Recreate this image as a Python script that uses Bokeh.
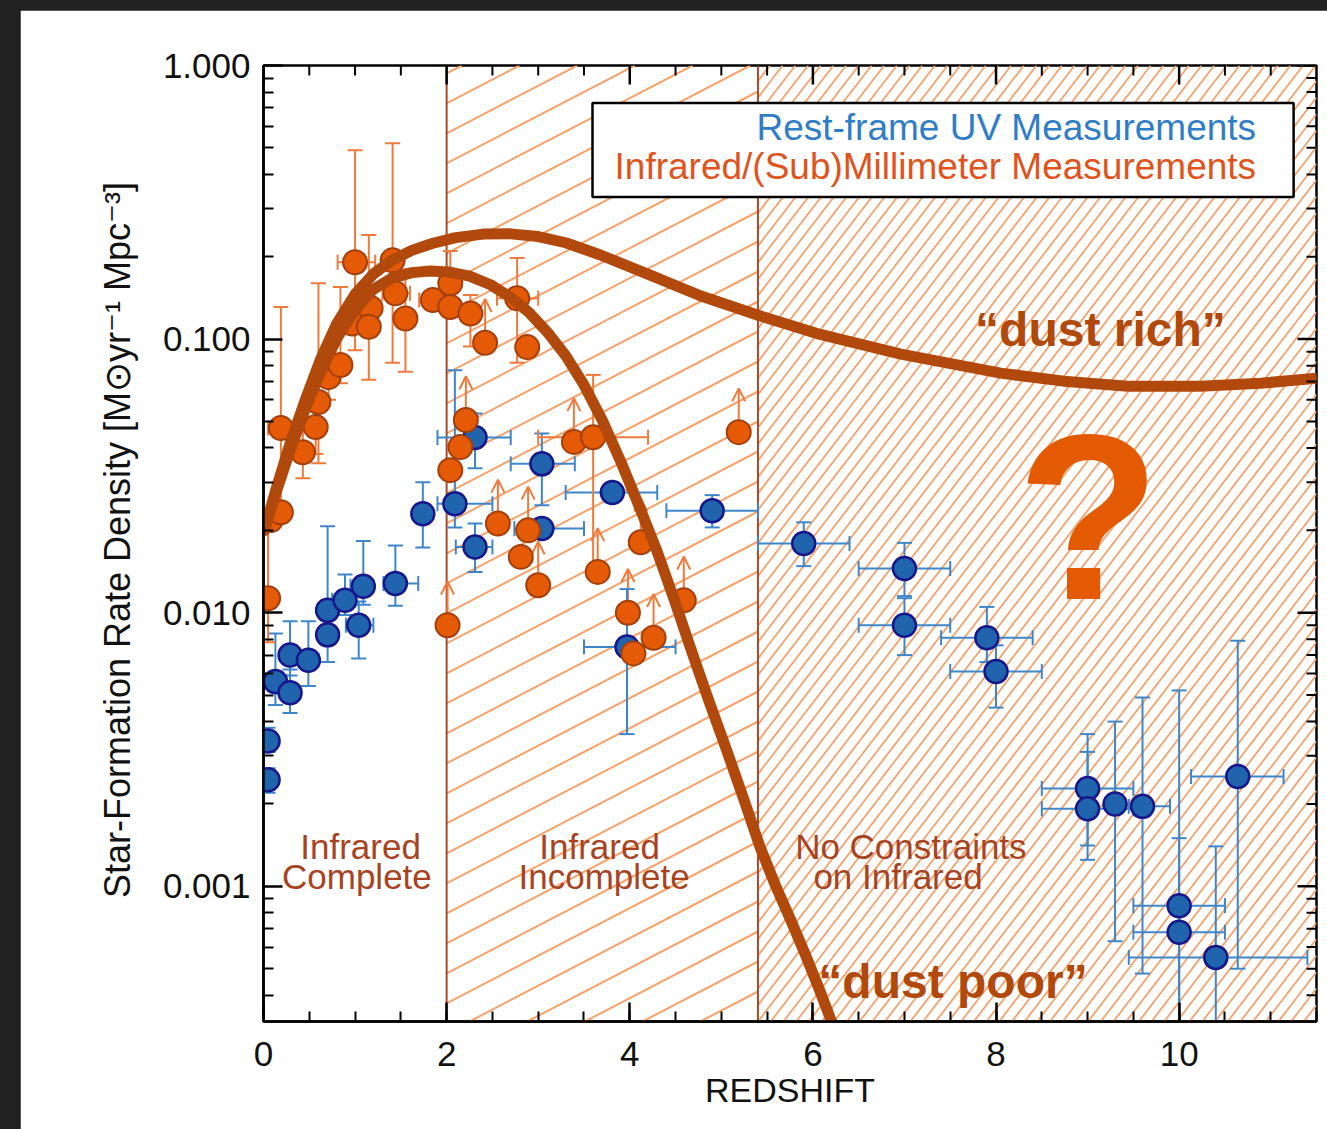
import numpy as np
from bokeh.plotting import figure
from bokeh.models import ColumnDataSource, Range1d, FixedTicker, Arrow, OpenHead, Spacer
from bokeh.layouts import column, row
from bokeh.core.properties import value
from bokeh.embed import file_html
from bokeh.resources import INLINE

# ---------------------------------------------------------------- data
# Rest-frame UV measurements: redshift, SFR density, and their error ranges
uv_z       = [0.05, 0.05, 0.13, 0.29, 0.29, 0.49, 0.70, 0.70, 0.89, 1.04, 1.09, 1.44,
              1.74, 2.09, 2.31, 2.31, 3.04, 3.04, 3.81, 3.97, 4.90, 5.90, 7.00, 7.00,
              7.90, 8.00, 9.00, 9.00, 9.30, 9.60, 10.00, 10.00, 10.40, 10.64]
uv_sfrd    = [0.0034, 0.00245, 0.0056, 0.0051, 0.0070, 0.0067, 0.0083, 0.0102, 0.0111,
              0.0090, 0.0125, 0.0128, 0.0230, 0.0250, 0.0437, 0.0174, 0.0350, 0.0203,
              0.0275, 0.0075, 0.0236, 0.0179, 0.0145, 0.0090, 0.0081, 0.0061, 0.00228,
              0.00192, 0.00200, 0.00196, 0.00085, 0.00068, 0.00055, 0.00252]
uv_z_lo    = [0.00, 0.00, 0.05, 0.20, 0.20, 0.40, 0.60, 0.60, 0.75, 0.90, 0.95, 1.31,
              None, 1.90, 1.90, 2.10, 2.70, 2.74, 3.30, 3.50, 4.40, 5.40, 6.50, 6.50,
              7.40, 7.50, 8.50, 8.50, None, 9.45, 9.50, 9.50, 9.45, 10.13]
uv_z_hi    = [0.10, 0.10, 0.25, 0.40, 0.40, 0.60, 0.80, 0.80, 1.00, 1.20, 1.20, 1.69,
              None, 2.50, 2.70, 2.50, 3.40, 3.50, 4.30, 4.50, 5.40, 6.40, 7.50, 7.50,
              8.40, 8.50, 9.50, 9.50, None, 9.90, 10.50, 10.50, 11.40, 11.14]
uv_sfrd_lo = [0.0031, 0.0022, 0.0046, 0.0043, 0.0059, 0.0054, 0.0066, 0.0080, 0.0098,
              0.0068, 0.0107, 0.0106, 0.0173, 0.0205, 0.0337, 0.0141, 0.0247, 0.0190,
              0.0260, 0.0036, 0.0205, 0.0148, 0.0115, 0.0070, 0.0066, 0.0045, 0.00141,
              0.00125, 0.00063, 0.00048, 0.00020, 0.00020, 0.00020, 0.00050]
uv_sfrd_hi = [0.0038, 0.0027, 0.0084, 0.0062, 0.0093, 0.0093, 0.0105, 0.0207, 0.0138,
              0.0110, 0.0183, 0.0176, 0.0300, 0.0770, 0.0535, 0.0212, 0.0452, 0.0216,
              0.0290, 0.0122, 0.0269, 0.0214, 0.0180, 0.0113, 0.0105, 0.0076, 0.0036,
              0.0031, 0.0040, 0.0049, 0.0052, 0.0015, 0.0014, 0.0079]

# Infrared / (sub)millimetre measurements (lower limits flagged)
ir_z       = [0.05, 0.08, 0.19, 0.19, 0.43, 0.57, 0.60, 0.71, 0.84, 0.97, 1.00, 1.17,
              1.15, 1.41, 1.44, 1.55, 1.85, 2.04, 2.04, 2.26, 2.42, 2.77, 2.88,
              2.01, 2.04, 2.15, 2.21, 2.56, 2.81, 2.89, 3.00, 3.39, 3.60, 3.65, 4.12,
              3.98, 4.04, 4.26, 4.59, 5.19]
ir_sfrd    = [0.0113, 0.0218, 0.0233, 0.0473, 0.0386, 0.0477, 0.0589, 0.0726, 0.0804,
              0.114, 0.191, 0.130, 0.111, 0.194, 0.147, 0.119, 0.139, 0.160, 0.131,
              0.124, 0.097, 0.141, 0.0935,
              0.0090, 0.0332, 0.0403, 0.0506, 0.0212, 0.0160, 0.0200, 0.0126, 0.0421,
              0.0438, 0.0141, 0.0181, 0.0100, 0.0071, 0.0081, 0.0111, 0.0457]
ir_z_lo    = [None, None, None, 0.05, None, None, None, None, None, None, 0.81, None,
              None, None, 1.30, None, 1.70, None, None, None, None, 2.55, None,
              None, None, None, None, None, None, None, None, None, 3.00, None, None,
              None, None, None, None, None]
ir_z_hi    = [None, None, None, 0.30, None, None, None, None, None, None, 1.22, None,
              None, None, 1.60, None, 2.00, None, None, None, None, 3.00, None,
              None, None, None, None, None, None, None, None, None, 4.20, None, None,
              None, None, None, None, None]
ir_sfrd_lo = [0.0078, None, None, 0.022, 0.031, 0.038, 0.0352, 0.060, 0.069, None,
              0.091, None, 0.071, 0.082, None, 0.076, None, 0.130, None, 0.094, None,
              0.082, None,
              None, None, None, None, None, None, None, None, None, 0.0142, None, None,
              None, None, None, None, None]
ir_sfrd_hi = [0.024, None, None, 0.131, 0.050, 0.060, 0.160, 0.090, 0.155, None,
              0.49, None, 0.24, 0.52, None, 0.18, None, 0.21, None, 0.145, None,
              0.198, None,
              None, None, None, None, None, None, None, None, None, 0.074, None, None,
              None, None, None, None, None]
ir_lower_limit = [False] * 20 + [True, False, False,
                  True, False, False, True, True, False, True, True, True,
                  False, True, True, True, False, True, True, True]

# Model SFR-density histories
rich_z    = [0.01, 0.13, 0.29, 0.46, 0.62, 0.80, 1.00, 1.20, 1.40, 1.62, 1.85, 2.10,
             2.40, 2.70, 3.00, 3.30, 3.68, 4.23, 4.77, 5.41, 6.08, 6.96, 8.05, 8.74,
             9.44, 10.23, 10.89, 11.50]
rich_sfrd = [0.0200, 0.0278, 0.0415, 0.0605, 0.0840, 0.114, 0.146, 0.173, 0.194, 0.211,
             0.224, 0.235, 0.242, 0.2425, 0.237, 0.225, 0.203, 0.171, 0.144, 0.122,
             0.104, 0.0881, 0.0751, 0.0702, 0.0673, 0.0673, 0.0690, 0.0720]
poor_z    = [0.01, 0.13, 0.29, 0.46, 0.62, 0.80, 1.00, 1.20, 1.40, 1.62, 1.82, 2.02,
             2.25, 2.48, 2.70, 2.90, 3.10, 3.30, 3.50, 3.70, 3.90, 4.12, 4.30, 4.48,
             4.66, 4.85, 5.05, 5.25, 5.42, 5.59, 5.76, 5.92, 6.07, 6.22, 6.35]
poor_sfrd = [0.0200, 0.0270, 0.0392, 0.0560, 0.0755, 0.1005, 0.128, 0.152, 0.167, 0.175,
             0.1775, 0.176, 0.170, 0.158, 0.142, 0.125, 0.106, 0.087, 0.068, 0.0505,
             0.0358, 0.0237, 0.0167, 0.0113, 0.0075, 0.00491, 0.0032, 0.00206, 0.00140,
             0.00101, 0.00075, 0.00056, 0.00042, 0.00031, 0.00024]

zone_edges = [2.0, 5.4]
x_ticks = [0, 2, 4, 6, 8, 10]
y_ticks = [0.001, 0.01, 0.1, 1.0]
y_tick_labels = ["0.001", "0.010", "0.100", "1.000"]

# ---------------------------------------------------------------- styling
FONT = "Liberation Sans"
FRAME_W, FRAME_H = 1053, 956
Z_MAX = 11.5
LOG_BOTTOM, LOG_TOP = -3.494, 0.0
PX_PER_Z = FRAME_W / Z_MAX
PX_PER_DEX = FRAME_H / (LOG_TOP - LOG_BOTTOM)
MAJOR_TICK, MINOR_TICK = 19, 10

UV_FILL, UV_EDGE, UV_ERR = "#2064ae", "#17178c", "#3f86c9"
IR_FILL, IR_EDGE, IR_ERR = "#e45a06", "#a43f0d", "#f07a3c"
CURVE = "#b0490b"
ZONE_LINE = "#a84a2a"
HATCH = "#f5a26c"
ZONE_TEXT = "#a8431f"

p = figure(frame_width=FRAME_W, frame_height=FRAME_H, y_axis_type="log",
           x_range=Range1d(0, Z_MAX), y_range=Range1d(10 ** LOG_BOTTOM, 10 ** LOG_TOP),
           output_backend="svg", toolbar_location=None,
           min_border_left=243, min_border_top=55, min_border_right=11, min_border_bottom=108,
           background_fill_color="white", border_fill_color="white")
p.grid.visible = False
p.outline_line_color = "black"
p.outline_line_width = 2.5

Y_BOT, Y_TOP = 10 ** LOG_BOTTOM, 10 ** LOG_TOP


def hatch(x0, x1, slope_px, gap_px, width, phase=0.0):
    """Parallel lines, straight on screen, filling x0..x1 over the full height."""
    k = slope_px * PX_PER_Z / PX_PER_DEX
    dc = gap_px / PX_PER_DEX
    xs0, ys0, xs1, ys1 = [], [], [], []
    c = LOG_BOTTOM - k * x1 + phase * dc
    while c < LOG_TOP - k * x0:
        a = max(x0, (LOG_BOTTOM - c) / k)
        b = min(x1, (LOG_TOP - c) / k)
        if b > a:
            xs0.append(a); ys0.append(10 ** (c + k * a))
            xs1.append(b); ys1.append(10 ** (c + k * b))
        c += dc
    p.segment(x0=xs0, y0=ys0, x1=xs1, y1=ys1, line_color=HATCH, line_width=width,
              level="underlay")


hatch(zone_edges[0], zone_edges[1], 0.52, 30, 2.0)
hatch(zone_edges[1], Z_MAX, 1.3, 16.5, 1.8)

p.segment(x0=zone_edges, y0=[Y_BOT] * 2, x1=zone_edges, y1=[Y_TOP] * 2,
          line_color=ZONE_LINE, line_width=2, level="underlay")

# upward arrows for lower limits
ARROW_DEX = 0.16
lim_x = [z for z, f in zip(ir_z, ir_lower_limit) if f]
lim_y = [s for s, f in zip(ir_sfrd, ir_lower_limit) if f]
arrow_src = ColumnDataSource(dict(x=lim_x, y0=lim_y, y1=[s * 10 ** ARROW_DEX for s in lim_y]))
p.add_layout(Arrow(end=OpenHead(size=13, line_color=IR_ERR, line_width=2),
                   x_start="x", y_start="y0", x_end="x", y_end="y1", source=arrow_src,
                   line_color=IR_ERR, line_width=2, level="underlay"))


def error_bars(z, s, zlo, zhi, slo, shi, color, cap):
    vx, v0, v1, hy, h0, h1 = [], [], [], [], [], []
    for zi, si, a, b, c, d in zip(z, s, zlo, zhi, slo, shi):
        if c is not None and d is not None:
            vx.append(zi); v0.append(c); v1.append(d)
        if a is not None and b is not None and b > a:
            hy.append(si); h0.append(a); h1.append(b)
    p.segment(x0=vx, y0=v0, x1=vx, y1=v1, line_color=color, line_width=2)
    p.scatter(x=vx + vx, y=v0 + v1, marker="dash", size=cap, line_color=color, line_width=2)
    p.segment(x0=h0, y0=hy, x1=h1, y1=hy, line_color=color, line_width=2)
    p.scatter(x=h0 + h1, y=hy + hy, marker="dash", angle=np.pi / 2, size=cap,
              line_color=color, line_width=2)


error_bars(uv_z, uv_sfrd, uv_z_lo, uv_z_hi, uv_sfrd_lo, uv_sfrd_hi, UV_ERR, 15)
error_bars(ir_z, ir_sfrd, ir_z_lo, ir_z_hi, ir_sfrd_lo, ir_sfrd_hi, IR_ERR, 15)

p.scatter(x=uv_z, y=uv_sfrd, size=23, fill_color=UV_FILL, line_color=UV_EDGE, line_width=2.5)
p.scatter(x=ir_z, y=ir_sfrd, size=24, fill_color=IR_FILL, line_color=IR_EDGE, line_width=2)

p.line(x=rich_z, y=rich_sfrd, line_color=CURVE, line_width=11, line_cap="round", line_join="round")
p.line(x=poor_z, y=poor_sfrd, line_color=CURVE, line_width=11, line_cap="round", line_join="round")

# legend box
p.quad(left=[3.593], right=[11.25], bottom=[0.3305], top=[0.729],
       fill_color="white", line_color="black", line_width=2.5)
p.text(x=[10.84], y=[0.591], text=["Rest-frame UV Measurements"], text_align="right",
       text_baseline="middle", text_font=value(FONT), text_font_size="37px", text_color="#2f7dc6")
p.text(x=[10.84], y=[0.429], text=["Infrared/(Sub)Millimeter Measurements"], text_align="right",
       text_baseline="middle", text_font=value(FONT), text_font_size="37px", text_color="#e0531c")

# zone captions
p.text(x=[1.06, 1.02, 3.67, 3.72, 7.07, 6.93],
       y=[0.0014, 0.00109, 0.0014, 0.00109, 0.0014, 0.00109],
       text=["Infrared", "Complete", "Infrared", "Incomplete", "No Constraints", "on Infrared"],
       text_align="center", text_baseline="middle", text_font=value(FONT),
       text_font_size="35px", text_color=ZONE_TEXT)

p.text(x=[9.14], y=[0.108], text=["\u201cdust rich\u201d"], text_align="center",
       text_baseline="middle", text_font=value(FONT), text_font_style="bold",
       text_font_size="48px", text_color=CURVE)
p.text(x=[7.53], y=[0.00045], text=["\u201cdust poor\u201d"], text_align="center",
       text_baseline="middle", text_font=value(FONT), text_font_style="bold",
       text_font_size="48px", text_color=CURVE)
p.text(x=[9.01], y=[0.0222], text=["?"], text_align="center", text_baseline="middle",
       text_font=value(FONT), text_font_style="bold", text_font_size="235px",
       text_color="#e45a00")

# axes: labelled bottom/left, mirrored inward ticks on top/right
x_minor = [0.5 * i for i in range(24)]
y_minor = [m * 10.0 ** e for e in (-4, -3, -2, -1) for m in range(2, 10)]

for ax in (p.xaxis[0], p.yaxis[0]):
    ax.axis_line_width = 2.5
    ax.axis_line_color = "black"
    ax.major_tick_in = MAJOR_TICK
    ax.major_tick_out = 0
    ax.minor_tick_in = MINOR_TICK
    ax.minor_tick_out = 0
    ax.major_tick_line_width = 2.5
    ax.minor_tick_line_width = 2
    ax.major_tick_line_color = "black"
    ax.minor_tick_line_color = "black"
    ax.major_label_text_font = FONT
    ax.major_label_text_color = "#111111"
    ax.major_label_text_font_size = "35px"
    ax.axis_label_text_font = FONT
    ax.axis_label_text_font_style = "normal"
    ax.axis_label_text_color = "#111111"

xb = p.xaxis[0]
xb.ticker = FixedTicker(ticks=x_ticks, minor_ticks=x_minor)
xb.major_label_standoff = 20
xb.axis_label = "REDSHIFT"
xb.axis_label_text_font_size = "34px"
xb.axis_label_standoff = 2

yl = p.yaxis[0]
yl.ticker = FixedTicker(ticks=y_ticks, minor_ticks=y_minor)
yl.major_label_overrides = dict(zip(y_ticks, y_tick_labels))
yl.major_label_standoff = 13
yl.axis_label = "Star-Formation Rate Density [M\u2299yr\u207b\u00b9 Mpc\u207b\u00b3]"
yl.axis_label_text_font_size = "36px"
yl.axis_label_standoff = 22

# top edge ticks (pointing down) and right edge ticks (pointing left)
top_major = [t for t in x_ticks]
top_minor = [t for t in x_minor if t not in x_ticks and 0 < t < Z_MAX]
p.segment(x0=top_major, y0=[Y_TOP] * len(top_major), x1=top_major,
          y1=[10 ** (LOG_TOP - MAJOR_TICK / PX_PER_DEX)] * len(top_major),
          line_color="black", line_width=2.5)
p.segment(x0=top_minor, y0=[Y_TOP] * len(top_minor), x1=top_minor,
          y1=[10 ** (LOG_TOP - MINOR_TICK / PX_PER_DEX)] * len(top_minor),
          line_color="black", line_width=2)
right_major = [t for t in y_ticks if Y_BOT <= t <= Y_TOP]
right_minor = [t for t in y_minor if Y_BOT <= t <= Y_TOP]
p.segment(x0=[Z_MAX] * len(right_major), y0=right_major,
          x1=[Z_MAX - MAJOR_TICK / PX_PER_Z] * len(right_major), y1=right_major,
          line_color="black", line_width=2.5)
p.segment(x0=[Z_MAX] * len(right_minor), y0=right_minor,
          x1=[Z_MAX - MINOR_TICK / PX_PER_Z] * len(right_minor), y1=right_minor,
          line_color="black", line_width=2)

page = column(Spacer(width=1327, height=10),
              row(Spacer(width=20, height=1119), p),
              styles={"background-color": "#212121"})

open("out.html", "w").write(file_html(page, INLINE))
